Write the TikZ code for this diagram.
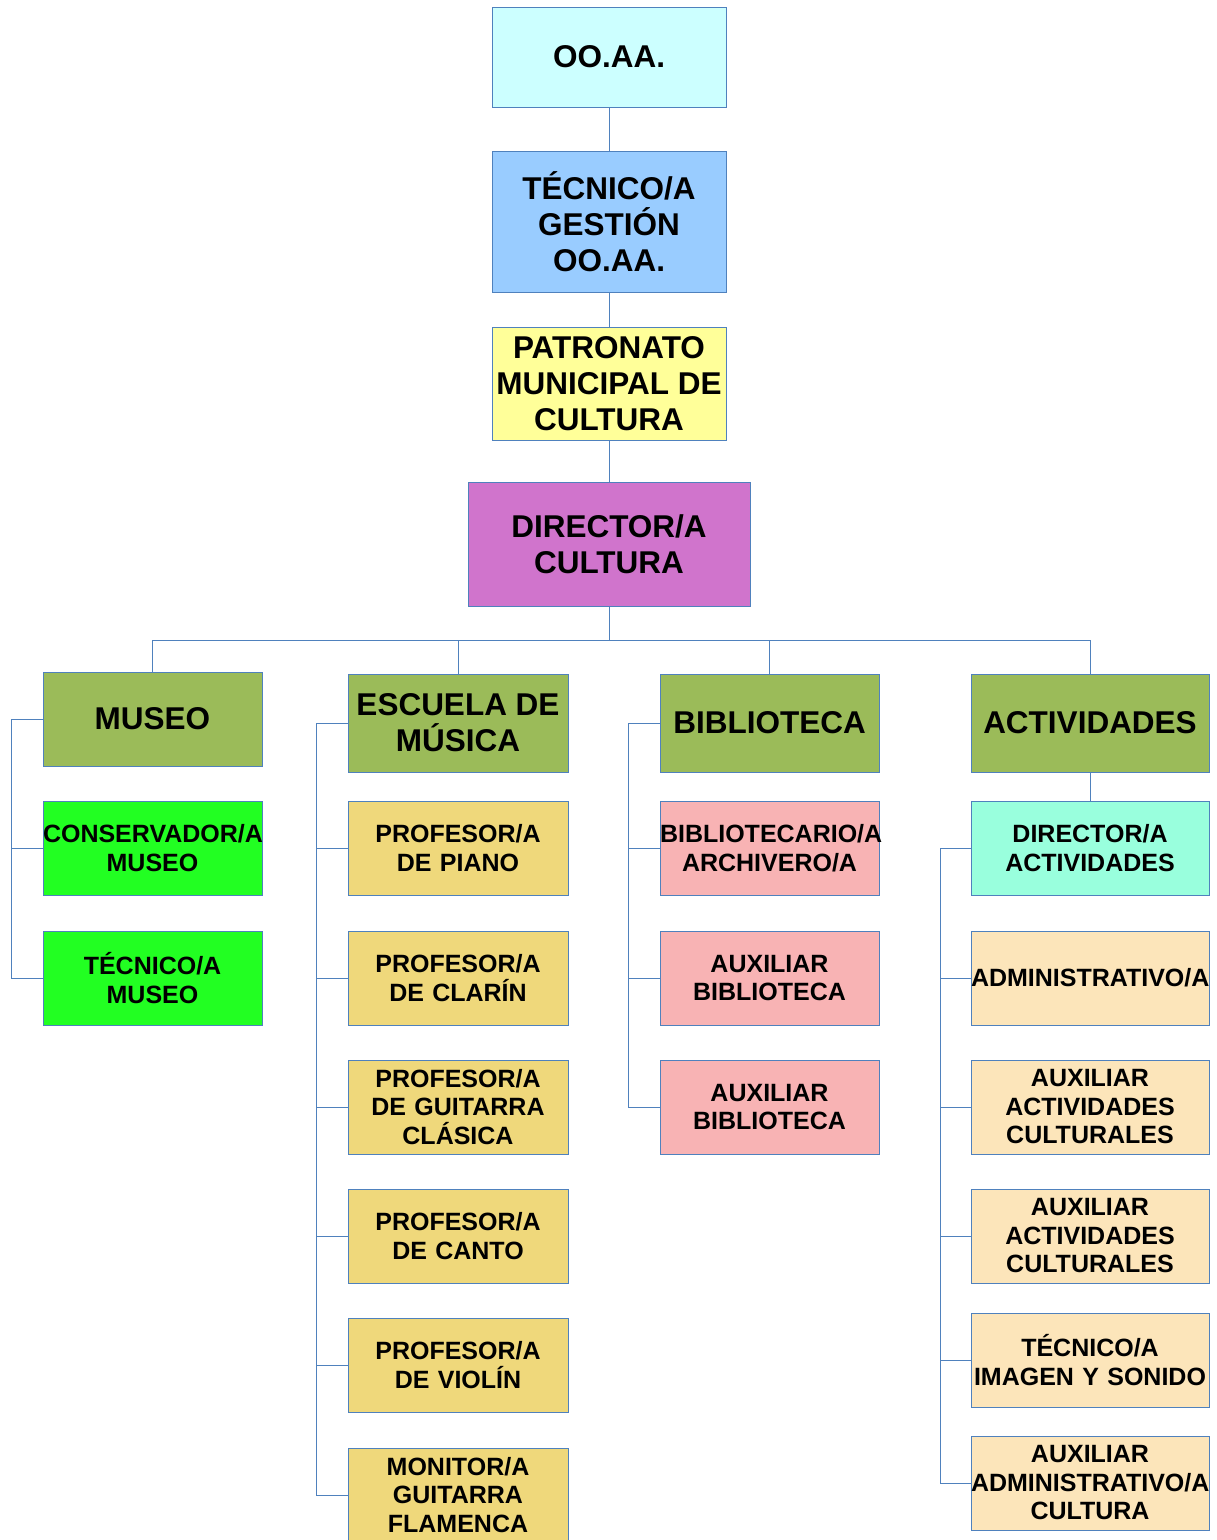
\documentclass[tikz,border=0pt]{standalone}
\usepackage{fontspec}
\setmainfont{Liberation Sans}
\definecolor{bordc}{HTML}{4F81BD}
\definecolor{cOO}{HTML}{CCFFFF}
\definecolor{cTec}{HTML}{99CCFF}
\definecolor{cPat}{HTML}{FFFF99}
\definecolor{cDir}{HTML}{D074CC}
\definecolor{cGreen}{HTML}{9BBB59}
\definecolor{cLime}{HTML}{22FF22}
\definecolor{cYel}{HTML}{EFD87B}
\definecolor{cPink}{HTML}{F8B3B4}
\definecolor{cMint}{HTML}{99FFDD}
\definecolor{cBeige}{HTML}{FCE5BA}
\begin{document}
\begin{tikzpicture}[x={(1pt,0)},y={(0,-1pt)},
  box/.style={draw=bordc, line width=1pt, inner sep=0pt, align=center, text=black},
  bigbox/.style={box, font=\fontsize{31.5}{36}\selectfont\bfseries},
  smallbox/.style={box, font=\fontsize{25}{28.5}\selectfont\bfseries},
  unitbox/.style={bigbox, minimum height=98pt},
  escbox/.style={smallbox, text width=220pt, minimum height=94pt, fill=cYel},
  bibbox/.style={smallbox, text width=219pt, minimum height=94pt, fill=cPink},
  musbox/.style={smallbox, text width=219pt, minimum height=94pt, fill=cLime},
  actbox/.style={smallbox, text width=238pt, minimum height=94pt, fill=cBeige},
  conn/.style={draw=bordc, line width=1pt}]
\useasboundingbox (0,0) rectangle (1217,1540);
\fill[white] (0,0) rectangle (1217,1540);

% top chain
\node[bigbox, fill=cOO, minimum width=234pt, minimum height=100pt] (ooaa) at (609,57) {OO.AA.};
\node[bigbox, fill=cTec, minimum width=234pt, minimum height=141pt] (tec) at (609,221.5) {TÉCNICO/A\\GESTIÓN\\OO.AA.};
\node[bigbox, fill=cPat, minimum width=234pt, minimum height=113pt] (pat) at (609,383.5) {PATRONATO\\MUNICIPAL DE\\CULTURA};
\node[bigbox, fill=cDir, minimum width=282pt, minimum height=124pt] (dir) at (609,544) {DIRECTOR/A\\CULTURA};

% units
\node[bigbox, fill=cGreen, minimum width=219pt, minimum height=94pt] (museo) at (152.5,719) {MUSEO};
\node[unitbox, fill=cGreen, minimum width=220pt] (esc) at (458,723) {ESCUELA DE\\MÚSICA};
\node[unitbox, fill=cGreen, minimum width=219pt] (bib) at (769.5,723) {BIBLIOTECA};
\node[unitbox, fill=cGreen, minimum width=238pt] (act) at (1090,723) {ACTIVIDADES};

% museo children
\node[musbox] (cons) at (152.5,848) {CONSERVADOR/A\\MUSEO};
\node[musbox] (tmus) at (152.5,978) {TÉCNICO/A\\MUSEO};

% escuela children
\node[escbox] (e1) at (458,848) {PROFESOR/A\\DE PIANO};
\node[escbox] (e2) at (458,978) {PROFESOR/A\\DE CLARÍN};
\node[escbox] (e3) at (458,1107) {PROFESOR/A\\DE GUITARRA\\CLÁSICA};
\node[escbox] (e4) at (458,1236) {PROFESOR/A\\DE CANTO};
\node[escbox] (e5) at (458,1365) {PROFESOR/A\\DE VIOLÍN};
\node[escbox] (e6) at (458,1495) {MONITOR/A\\GUITARRA\\FLAMENCA};

% biblioteca children
\node[bibbox] (b1) at (769.5,848) {BIBLIOTECARIO/A\\ARCHIVERO/A};
\node[bibbox] (b2) at (769.5,978) {AUXILIAR\\BIBLIOTECA};
\node[bibbox] (b3) at (769.5,1107) {AUXILIAR\\BIBLIOTECA};

% actividades children
\node[actbox, fill=cMint] (a0) at (1090,848) {DIRECTOR/A\\ACTIVIDADES};
\node[actbox] (a1) at (1090,978) {ADMINISTRATIVO/A};
\node[actbox] (a2) at (1090,1107) {AUXILIAR\\ACTIVIDADES\\CULTURALES};
\node[actbox] (a3) at (1090,1236) {AUXILIAR\\ACTIVIDADES\\CULTURALES};
\node[actbox] (a4) at (1090,1360) {TÉCNICO/A\\IMAGEN Y SONIDO};
\node[actbox] (a5) at (1090,1483) {AUXILIAR\\ADMINISTRATIVO/A\\CULTURA};

% bus coordinates
\coordinate (bus) at (609,640);
\coordinate (mx) at (11,0);
\coordinate (ex) at (316,0);
\coordinate (bx) at (628,0);
\coordinate (ax) at (940,0);

% top connectors
\draw[conn] (ooaa) -- (tec);
\draw[conn] (tec) -- (pat);
\draw[conn] (pat) -- (dir);
\draw[conn] (dir.south) -- (bus);
\draw[conn] (museo.north) |- (bus);
\draw[conn] (esc.north) |- (bus);
\draw[conn] (bib.north) |- (bus);
\draw[conn] (act.north) |- (bus);

% museo
\foreach \c in {cons,tmus} \draw[conn] (museo.west) -| (mx |- \c.west) -- (\c.west);
% escuela
\foreach \c in {e1,e2,e3,e4,e5,e6} \draw[conn] (esc.west) -| (ex |- \c.west) -- (\c.west);
% biblioteca
\foreach \c in {b1,b2,b3} \draw[conn] (bib.west) -| (bx |- \c.west) -- (\c.west);
% actividades
\draw[conn] (act) -- (a0);
\foreach \c in {a1,a2,a3,a4,a5} \draw[conn] (a0.west) -| (ax |- \c.west) -- (\c.west);
\end{tikzpicture}
\end{document}
